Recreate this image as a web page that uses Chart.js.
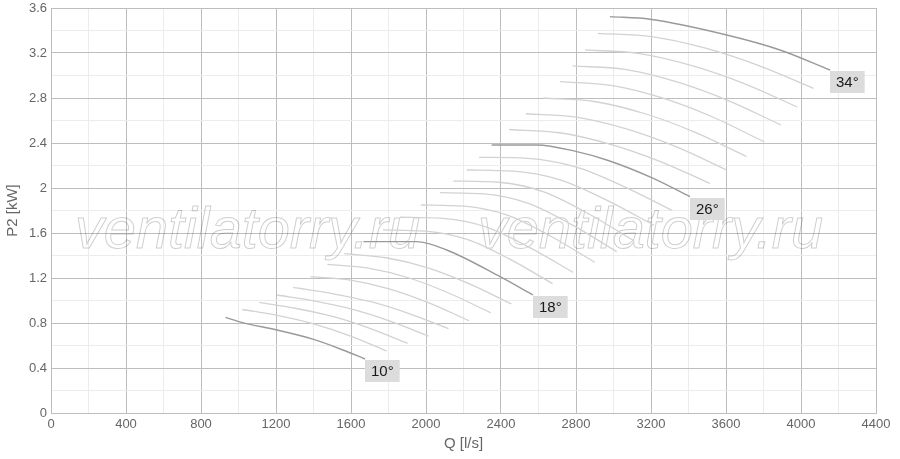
<!DOCTYPE html>
<html lang="ru">
<head>
    <meta charset="UTF-8">
    <title>P2 vs Q</title>
    <script src="https://cdn.jsdelivr.net/npm/chart.js"></script>
    <style>
        body { margin: 0; background: #fff; }
        #wrap { width: 900px; height: 459px; }
    </style>
</head>
<body>
<div id="wrap"><canvas id="powerChart" width="900" height="459"></canvas></div>
<script>
// blade angles, one curve per angle
const angles = [10, 11, 12, 13, 14, 15, 16, 17, 18, 19, 20, 21, 22, 23, 24, 25, 26, 27, 28, 29, 30, 31, 32, 33, 34];
const labelledAngles = [10, 18, 26, 34];

// Q [l/s] per curve
const flow = [
    [931, 1017, 1204, 1397, 1557, 1675],
    [1020, 1213, 1405, 1598, 1790],
    [1111, 1309, 1507, 1704, 1902],
    [1204, 1407, 1609, 1812, 2014],
    [1292, 1499, 1706, 1913, 2120],
    [1385, 1596, 1808, 2019, 2230],
    [1474, 1692, 1910, 2127, 2345],
    [1564, 1787, 2010, 2232, 2455],
    [1666, 1950, 2110, 2395, 2571],
    [1771, 1997, 2223, 2449, 2675],
    [1861, 2092, 2323, 2554, 2785],
    [1973, 2205, 2437, 2668, 2900],
    [2075, 2311, 2546, 2782, 3017],
    [2146, 2387, 2628, 2869, 3110],
    [2217, 2467, 2716, 2966, 3215],
    [2283, 2541, 2799, 3056, 3314],
    [2350, 2590, 2804, 2964, 3212, 3408],
    [2444, 2712, 2980, 3247, 3515],
    [2533, 2801, 3069, 3336, 3604],
    [2626, 2897, 3168, 3439, 3710],
    [2715, 2987, 3260, 3532, 3804],
    [2782, 3060, 3338, 3615, 3893],
    [2848, 3131, 3414, 3697, 3980],
    [2916, 3204, 3491, 3779, 4066],
    [2981, 3195, 3604, 3888, 4155]
];

// P2 [kW] per curve
const power = [
    [0.85, 0.806, 0.738, 0.656, 0.56, 0.48],
    [0.92, 0.865, 0.79, 0.684, 0.551],
    [0.984, 0.929, 0.856, 0.75, 0.619],
    [1.049, 0.994, 0.921, 0.815, 0.684],
    [1.117, 1.062, 0.989, 0.882, 0.75],
    [1.212, 1.181, 1.102, 0.977, 0.82],
    [1.321, 1.287, 1.2, 1.062, 0.89],
    [1.416, 1.38, 1.291, 1.148, 0.97],
    [1.523, 1.523, 1.449, 1.212, 1.049],
    [1.627, 1.617, 1.541, 1.365, 1.15],
    [1.74, 1.73, 1.652, 1.47, 1.25],
    [1.849, 1.839, 1.757, 1.569, 1.34],
    [1.958, 1.948, 1.864, 1.67, 1.434],
    [2.062, 2.051, 1.966, 1.769, 1.53],
    [2.16, 2.15, 2.072, 1.89, 1.67],
    [2.273, 2.264, 2.188, 2.013, 1.8],
    [2.382, 2.382, 2.323, 2.249, 2.086, 1.923],
    [2.52, 2.491, 2.39, 2.237, 2.04],
    [2.66, 2.63, 2.525, 2.365, 2.16],
    [2.8, 2.769, 2.66, 2.493, 2.28],
    [2.945, 2.913, 2.801, 2.629, 2.41],
    [3.085, 3.054, 2.943, 2.775, 2.56],
    [3.227, 3.197, 3.09, 2.928, 2.72],
    [3.375, 3.346, 3.243, 3.086, 2.886],
    [3.523, 3.5, 3.36, 3.227, 3.049]
];

const datasets = angles.map((a, i) => {
    const dark = labelledAngles.includes(a);
    return {
        label: a + '°',
        data: flow[i].map((q, j) => ({ x: q, y: power[i][j] })),
        showLine: true,
        borderColor: dark ? '#9a9a9a' : '#d2d2d2',
        borderWidth: dark ? 1.4 : 1.3,
        pointRadius: 0,
        fill: false,
        cubicInterpolationMode: 'monotone',
        order: dark ? 0 : 1
    };
});

const watermark = {
    id: 'watermark',
    beforeDatasetsDraw(chart) {
        const ctx = chart.ctx;
        const text = 'ventilatorry.ru';
        ctx.save();
        ctx.font = 'italic 48px "Liberation Sans", Arial, sans-serif';
        const w = ctx.measureText(text).width;
        const size = 48 * 345 / w;
        ctx.font = 'italic ' + size.toFixed(1) + 'px "Liberation Sans", Arial, sans-serif';
        ctx.strokeStyle = 'rgba(0,0,0,0.2)';
        ctx.lineWidth = 1;
        ctx.textBaseline = 'alphabetic';
        ctx.strokeText(text, 75, 248);
        ctx.strokeText(text, 478, 248);
        ctx.restore();
    }
};

const angleLabels = {
    id: 'angleLabels',
    afterDatasetsDraw(chart) {
        const ctx = chart.ctx;
        ctx.save();
        ctx.font = '15px "Liberation Sans", Arial, sans-serif';
        ctx.textBaseline = 'middle';
        chart.data.datasets.forEach((ds, i) => {
            if (!labelledAngles.includes(angles[i])) return;
            const pts = chart.getDatasetMeta(i).data;
            const p = pts[pts.length - 1];
            const w = ctx.measureText(ds.label).width + 12;
            ctx.fillStyle = '#dcdcdc';
            ctx.fillRect(Math.round(p.x), Math.round(p.y) + 1, w, 22);
            ctx.fillStyle = '#1a1a1a';
            ctx.fillText(ds.label, Math.round(p.x) + 6, Math.round(p.y) + 13);
        });
        ctx.restore();
    }
};

const tickFont = { family: '"Liberation Sans", Arial, sans-serif', size: 13 };
const titleFont = { family: '"Liberation Sans", Arial, sans-serif', size: 15 };

new Chart(document.getElementById('powerChart'), {
    type: 'scatter',
    data: { datasets },
    plugins: [watermark, angleLabels],
    options: {
        responsive: false,
        animation: false,
        layout: { padding: { top: 8, right: 24, left: 0, bottom: 0 } },
        plugins: { legend: { display: false }, tooltip: { enabled: false } },
        scales: {
            x: {
                type: 'linear',
                min: 0,
                max: 4400,
                afterFit: s => { s.height = 46; },
                ticks: {
                    stepSize: 200,
                    autoSkip: false,
                    maxRotation: 0,
                    padding: 4,
                    color: '#666',
                    font: tickFont,
                    callback: v => (v % 400 === 0 ? String(v) : '')
                },
                grid: {
                    drawTicks: false,
                    color: c => (c.tick && c.tick.value % 400 === 0 ? '#bdbdbd' : '#ececec'),
                    lineWidth: 1
                },
                border: { color: '#bdbdbd' },
                title: { display: true, text: 'Q [l/s]', color: '#666', font: titleFont, padding: { top: 0, bottom: 6 } }
            },
            y: {
                min: 0,
                max: 3.6,
                afterFit: s => { s.width = 51; s.paddingTop = 0; s.paddingBottom = 0; },
                ticks: {
                    stepSize: 0.2,
                    autoSkip: false,
                    padding: 4,
                    color: '#666',
                    font: tickFont,
                    callback: v => (Math.round(v * 10) % 4 === 0 ? String(Math.round(v * 10) / 10) : '')
                },
                grid: {
                    drawTicks: false,
                    color: c => (c.tick && Math.round(c.tick.value * 10) % 4 === 0 ? '#bdbdbd' : '#ececec'),
                    lineWidth: 1
                },
                border: { color: '#bdbdbd' },
                title: { display: true, text: 'P2 [kW]', color: '#666', font: titleFont, padding: { top: 4, bottom: 0 } }
            }
        }
    }
});
</script>
</body>
</html>
